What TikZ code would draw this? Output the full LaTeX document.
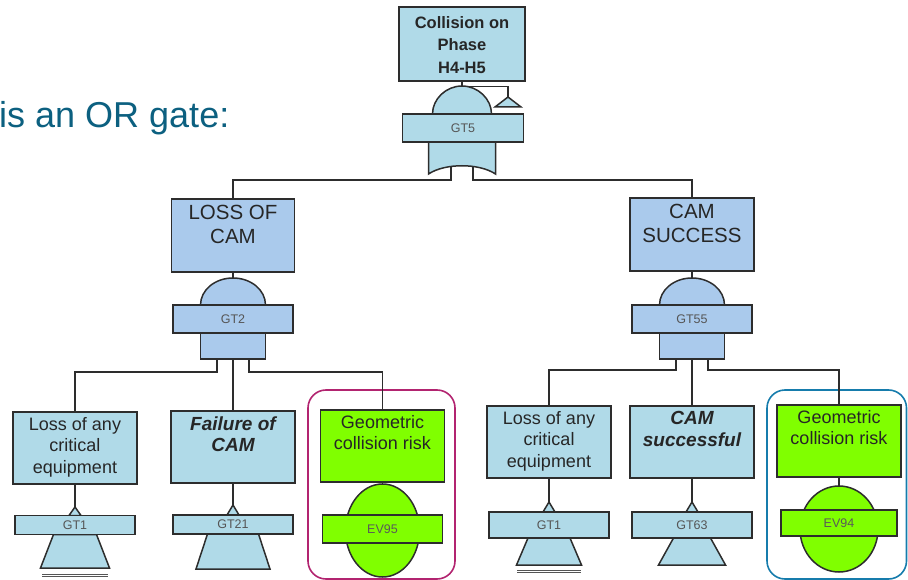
\documentclass[tikz,border=0pt]{standalone}
\usepackage{fontspec}
\setmainfont{Liberation Sans}
\usetikzlibrary{positioning}
\definecolor{ftblue}{RGB}{176,218,232}
\definecolor{ftsteel}{RGB}{170,202,236}
\definecolor{ftgreen}{RGB}{128,255,0}
\definecolor{ftline}{RGB}{45,45,45}
\definecolor{ftgrey}{RGB}{85,85,85}
\definecolor{ftmagenta}{RGB}{178,36,112}
\definecolor{ftframe}{RGB}{22,124,172}
\definecolor{fttitle}{RGB}{12,96,128}
\tikzset{
    evbox/.style={rectangle, draw=ftline, fill=ftblue, line width=1.5pt, inner sep=0pt, minimum width=124, minimum height=72},
    boxtxt/.style={align=center, inner sep=0pt, text=black!85, font=\fontsize{18}{21.5}\selectfont},
    gatelbl/.style={rectangle, draw=ftline, fill=ftblue, line width=1.5pt, inner sep=0pt, minimum width=120, text=ftgrey, font=\fontsize{12.5}{14}\selectfont},
    gateshape/.style={draw=ftline, fill=ftblue, line width=1.5pt},
    conn/.style={draw=ftline, line width=1.5pt},
    hilite/.style={rounded corners=18, line width=1.6pt},
    dbl/.style={draw=ftgrey, double=white, double distance=1.2pt, line width=1.3pt},
}
\begin{document}
\begin{tikzpicture}[x=1pt, y=-1pt]
    \useasboundingbox (0,0) rectangle (908,580);

    % heading
    \node[anchor=base west, inner sep=0pt, text=fttitle, font=\fontsize{36}{40}\selectfont] (head) at (-1,128) {is an OR gate:};

    % highlight frames
    \draw[ftmagenta, hilite] (308,390) rectangle (455,579);
    \draw[ftframe, hilite] (767,390) rectangle (906.5,579);

    % top event
    \node[evbox, minimum width=126, minimum height=74] (top) at (462,44) {};
    \node[boxtxt, font=\bfseries\fontsize{16.5}{22.5}\selectfont, below=10pt of top.north] (toptxt) {Collision on\\Phase\\H4-H5};

    % intermediate events
    \node[evbox, fill=ftsteel, minimum width=123, minimum height=73] (loss) at (233,235.5) {};
    \node[boxtxt, font=\fontsize{20.5}{24}\selectfont, below=7pt of loss.north] (losstxt) {LOSS OF\\CAM};
    \node[evbox, fill=ftsteel, minimum width=124, minimum height=73] (succ) at (692,234.5) {};
    \node[boxtxt, font=\fontsize{20.5}{24}\selectfont, below=7pt of succ.north] (succtxt) {CAM\\SUCCESS};

    % lower events
    \node[evbox] (l1) at (75,448) {};
    \node[boxtxt, below=6pt of l1.north] (l1txt) {Loss of any\\critical\\equipment};
    \node[evbox] (l2) at (233,447) {};
    \node[boxtxt, font=\bfseries\itshape\fontsize{19}{21.5}\selectfont, below=6pt of l2.north] (l2txt) {Failure of\\CAM};
    \node[evbox, fill=ftgreen] (l3) at (382.5,446) {};
    \node[boxtxt, below=6pt of l3.north] (l3txt) {Geometric\\collision risk};
    \node[evbox] (r1) at (549,442) {};
    \node[boxtxt, below=6pt of r1.north] (r1txt) {Loss of any\\critical\\equipment};
    \node[evbox] (r2) at (692,442) {};
    \node[boxtxt, font=\bfseries\itshape\fontsize{19}{21.5}\selectfont, below=6pt of r2.north] (r2txt) {CAM\\successful};
    \node[evbox, fill=ftgreen] (r3) at (839,441) {};
    \node[boxtxt, below=6pt of r3.north] (r3txt) {Geometric\\collision risk};

    % connectors from GT5
    \coordinate (gt5in) at (462,86.5);
    \coordinate (gt5tr) at (508,97);
    \coordinate (gt5a) at (451,160);
    \coordinate (gt5b) at (473,160);
    \draw[conn] (top.south) -- (gt5in) -| (gt5tr);
    \draw[conn] (gt5a) -- ++(0,20) -| (loss.north);
    \draw[conn] (gt5b) -- ++(0,20) -| (succ.north);

    % connectors from GT2 and GT55
    \coordinate (gt2in) at (233,278);
    \coordinate (gt55in) at (692,278);
    \draw[conn] (loss.south) -- (gt2in);
    \draw[conn] (succ.south) -- (gt55in);
    \coordinate (gt2a) at (217,350);
    \coordinate (gt2b) at (233,350);
    \coordinate (gt2c) at (249,350);
    \draw[conn] (gt2a) -- ++(0,22) -| (l1.north);
    \draw[conn] (gt2b) -- (l2.north);
    \draw[conn] (gt2c) -- ++(0,22) -| (l3.north);
    \coordinate (gt55a) at (676,350);
    \coordinate (gt55b) at (692,350);
    \coordinate (gt55c) at (708,350);
    \draw[conn] (gt55a) -- ++(0,20) -| (r1.north);
    \draw[conn] (gt55b) -- (r2.north);
    \draw[conn] (gt55c) -- ++(0,20) -| (r3.north);

    % OR gate GT5
    \draw[gateshape] (432.5,114) .. controls (432.5,99) and (446,86) .. (462,86) .. controls (478,86) and (491.5,99) .. (491.5,114) -- cycle;
    \draw[gateshape] (428.5,142) -- (428.5,174) .. controls (445,163) and (479,163) .. (495.5,174) -- (495.5,142) -- cycle;
    \node[gatelbl, minimum width=121, minimum height=28] (gt5) at (463,128) {GT5};
    \draw[gateshape] (gt5tr) -- (495,107) -- (521,107) -- cycle;

    % AND gates
    \foreach \cx/\nm/\lbl in {233/gt2/GT2, 692/gt55/GT55} {
        \draw[gateshape, fill=ftsteel] (\cx-32.5,305) .. controls (\cx-32.5,290) and (\cx-18,278) .. (\cx,278) .. controls (\cx+18,278) and (\cx+32.5,290) .. (\cx+32.5,305) -- cycle;
        \draw[gateshape, fill=ftsteel] (\cx-32.5,333) rectangle (\cx+32.5,359);
        \node[gatelbl, fill=ftsteel, minimum height=28] (\nm) at (\cx,319) {\lbl};
    }

    % transfer gates
    \foreach \bx/\cx/\ay/\ry/\rh/\tb/\th/\bh/\nm/\lbl in {l1/75/507/525/19/568/21.5/34.5/gt1a/GT1, l2/233/505/524.5/19/569/25.5/37/gt21/GT21, r1/549/502/525/26/565/21/32.5/gt1b/GT1, r2/692/502/525/26/565/18.5/33.5/gt63/GT63} {
        \coordinate (\nm-in) at (\cx,\ay);
        \draw[conn] (\bx.south) -- (\nm-in);
        \draw[gateshape] (\nm-in) -- (\cx-6,\ry-\rh/2) -- (\cx+6,\ry-\rh/2) -- cycle;
        \draw[gateshape] (\cx-\th,\ry+\rh/2) -- (\cx+\th,\ry+\rh/2) -- (\cx+\bh,\tb) -- (\cx-\bh,\tb) -- cycle;
        \node[gatelbl, minimum height=\rh] (\nm) at (\cx,\ry) {\lbl};
    }
    \draw[dbl] (42,575.5) -- (108,575.5);
    \draw[dbl] (517,571.5) -- (581,571.5);

    % basic events
    \foreach \bx/\cx/\ey/\rx/\rr/\ly/\lw/\lh/\nm/\lbl in {l3/382.5/530.5/37/46.5/529/120/28/ev95/EV95, r3/839/529/39/43/523/116/26/ev94/EV94} {
        \coordinate (\nm-in) at (\cx,\ey-\rr);
        \draw[conn] (\bx.south) -- (\nm-in);
        \draw[gateshape, fill=ftgreen] (\cx,\ey) ellipse [x radius=\rx, y radius=\rr];
        \node[gatelbl, fill=ftgreen, minimum width=\lw, minimum height=\lh, text=black!65] (\nm) at (\cx,\ly) {\lbl};
    }
\end{tikzpicture}
\end{document}
